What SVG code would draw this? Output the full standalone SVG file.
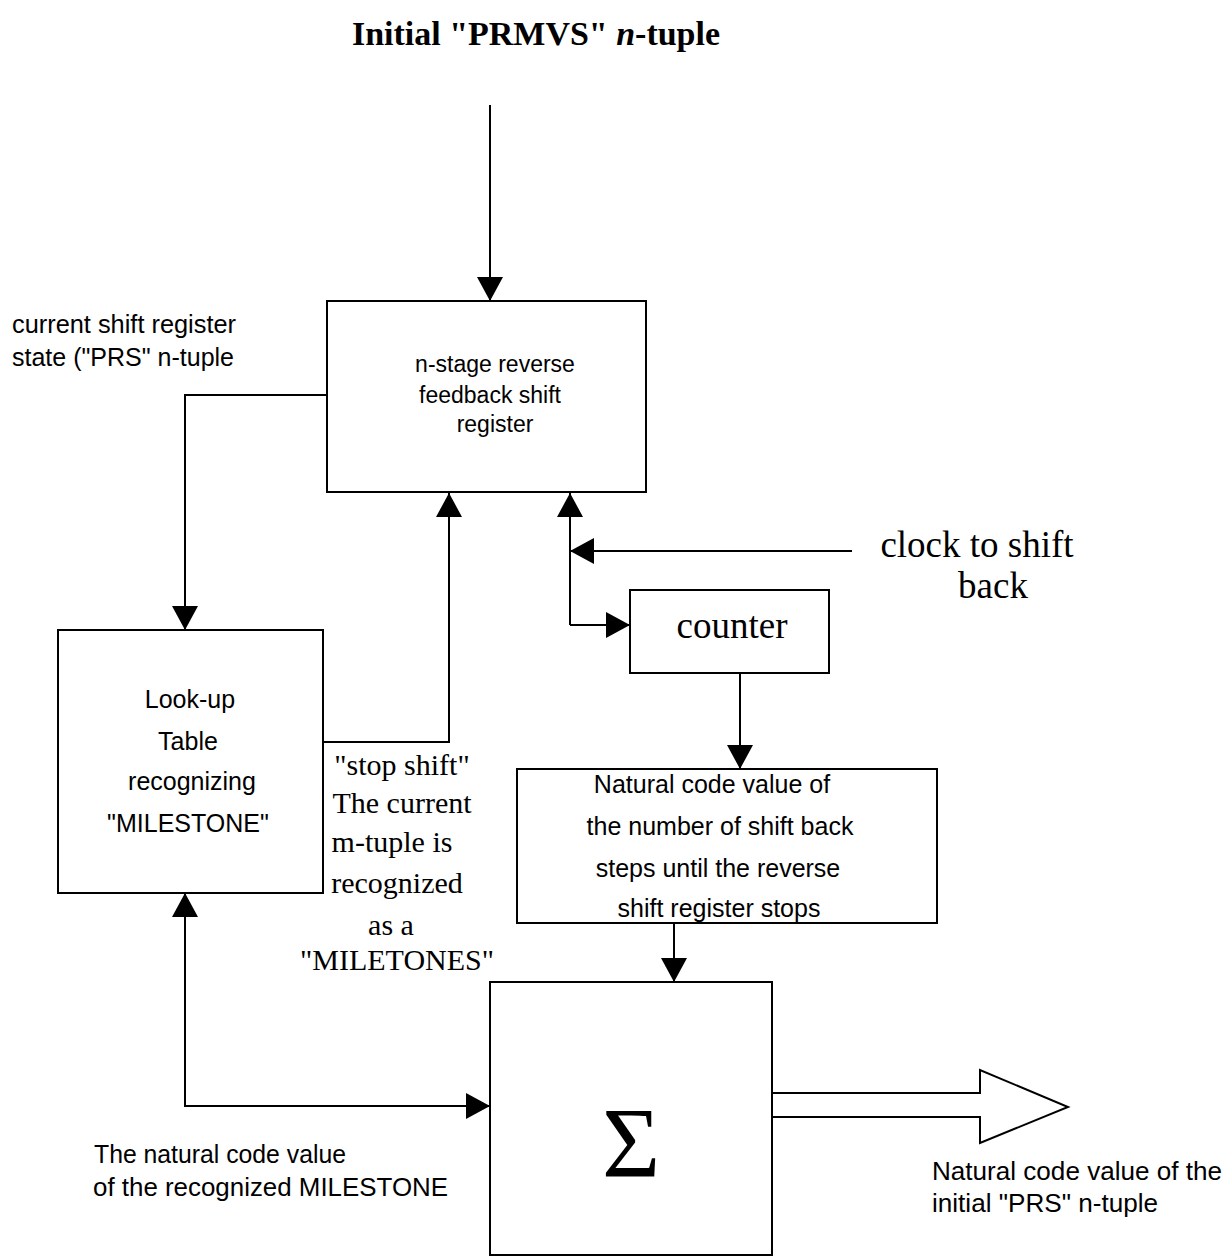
<svg xmlns="http://www.w3.org/2000/svg" width="1228" height="1259" viewBox="0 0 1228 1259">
<style>
.box{fill:#fff;stroke:#000;stroke-width:2}
.ln{fill:none;stroke:#000;stroke-width:2}
.sans{font-family:"Liberation Sans","Noto Sans",sans-serif;fill:#000}
.serif{font-family:"Liberation Serif","Times New Roman",serif;fill:#000}
.c{text-anchor:middle}
</style>
<defs>
<marker id="ah" markerUnits="userSpaceOnUse" markerWidth="24" markerHeight="26" viewBox="0 0 24 26" refX="24" refY="13" orient="auto-start-reverse">
<path d="M0,0 L24,13 L0,26 Z" fill="#000"/>
</marker>
</defs>
<rect width="1228" height="1259" fill="#fff"/>

<g id="title">
<text class="serif c" x="536" y="45" font-size="34" font-weight="bold" textLength="368" lengthAdjust="spacingAndGlyphs">Initial "PRMVS" <tspan font-style="italic">n</tspan>-tuple</text>
</g>

<g id="connectors">
<path class="ln" d="M490,105 V301" marker-end="url(#ah)"/>
<path class="ln" d="M327,395 H185 V630" marker-end="url(#ah)"/>
<path class="ln" d="M323,742 H449 V493" marker-end="url(#ah)"/>
<path class="ln" d="M852,551 H570" marker-end="url(#ah)"/>
<path class="ln" d="M570,625 V493" marker-end="url(#ah)"/>
<path class="ln" d="M570,625 H630" marker-end="url(#ah)"/>
<path class="ln" d="M740,673 V769" marker-end="url(#ah)"/>
<path class="ln" d="M674,923 V982" marker-end="url(#ah)"/>
<path class="ln" d="M185,893 V1106 H490" marker-start="url(#ah)" marker-end="url(#ah)"/>
<path class="ln" d="M772,1093 H980 V1070 L1068,1107 L980,1143 V1117 H772"/>
</g>

<g id="register">
<rect class="box" x="327" y="301" width="319" height="191"/>
<text class="sans c" font-size="23" x="495" y="372">n-stage reverse</text>
<text class="sans c" font-size="23" x="490" y="403">feedback shift</text>
<text class="sans c" font-size="23" x="495" y="432">register</text>
</g>

<g id="state-label">
<text class="sans" font-size="25" x="12" y="333" textLength="224" lengthAdjust="spacingAndGlyphs">current shift register</text>
<text class="sans" font-size="25" x="12" y="366" textLength="222" lengthAdjust="spacingAndGlyphs">state ("PRS" n-tuple</text>
</g>

<g id="clock-label">
<text class="serif c" font-size="37" x="977" y="557">clock to shift</text>
<text class="serif c" font-size="37" x="993" y="598">back</text>
</g>

<g id="counter">
<rect class="box" x="630" y="590" width="199" height="83"/>
<text class="serif c" font-size="37" x="732" y="638">counter</text>
</g>

<g id="lookup">
<rect class="box" x="58" y="630" width="265" height="263"/>
<text class="sans c" font-size="25" x="190" y="708">Look-up</text>
<text class="sans c" font-size="25" x="188" y="750">Table</text>
<text class="sans c" font-size="25" x="192" y="790">recognizing</text>
<text class="sans c" font-size="25" x="188" y="832">"MILESTONE"</text>
</g>

<g id="stop-label">
<text class="serif c" font-size="30" x="402" y="775">"stop shift"</text>
<text class="serif c" font-size="30" x="402" y="813">The current</text>
<text class="serif c" font-size="30" x="392" y="852">m-tuple is</text>
<text class="serif c" font-size="30" x="397" y="893">recognized</text>
<text class="serif c" font-size="30" x="391" y="935">as a</text>
<text class="serif c" font-size="30" x="397" y="970">"MILETONES"</text>
</g>

<g id="natural">
<rect class="box" x="517" y="769" width="420" height="154"/>
<text class="sans c" font-size="25" x="712" y="793">Natural code value of</text>
<text class="sans c" font-size="25" x="720" y="835">the number of shift back</text>
<text class="sans c" font-size="25" x="718" y="877">steps until the reverse</text>
<text class="sans c" font-size="25" x="719" y="917">shift register stops</text>
</g>

<g id="sum">
<rect class="box" x="490" y="982" width="282" height="273"/>
<text class="serif c" font-size="100" x="631" y="1176">Σ</text>
</g>

<g id="milestone-label">
<text class="sans" font-size="25" x="94" y="1163" textLength="252" lengthAdjust="spacingAndGlyphs">The natural code value</text>
<text class="sans" font-size="25" x="93" y="1196" textLength="355" lengthAdjust="spacingAndGlyphs">of the recognized MILESTONE</text>
</g>

<g id="output-label">
<text class="sans" font-size="25" x="932" y="1180" textLength="290" lengthAdjust="spacingAndGlyphs">Natural code value of the</text>
<text class="sans" font-size="25" x="932" y="1212" textLength="226" lengthAdjust="spacingAndGlyphs">initial "PRS" n-tuple</text>
</g>
</svg>
